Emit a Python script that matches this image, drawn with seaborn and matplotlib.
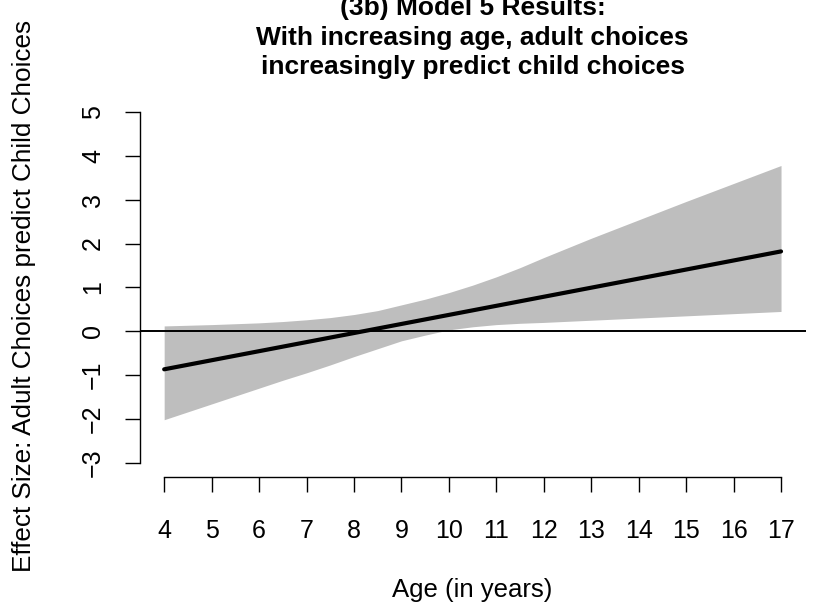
import matplotlib
matplotlib.use("Agg")
import matplotlib.pyplot as plt
import seaborn as sns
import pandas as pd

# Model 5: moderation of the adult-choice effect by child age (half-year grid)
ages = [4.0, 4.5, 5.0, 5.5, 6.0, 6.5, 7.0, 7.5, 8.0, 8.5, 9.0, 9.5, 10.0, 10.5,
        11.0, 11.5, 12.0, 12.5, 13.0, 13.5, 14.0, 14.5, 15.0, 15.5, 16.0, 16.5, 17.0]
ci_upper = [0.12, 0.135, 0.15, 0.17, 0.19, 0.22, 0.26, 0.31, 0.38, 0.47, 0.60, 0.73, 0.88, 1.05,
            1.24, 1.45, 1.68, 1.90, 2.12, 2.33, 2.54, 2.75, 2.96, 3.165, 3.37, 3.575, 3.78]
ci_lower = [-2.02, -1.84, -1.66, -1.48, -1.30, -1.12, -0.95, -0.77, -0.58, -0.40, -0.22, -0.09, 0.03, 0.10,
            0.15, 0.18, 0.20, 0.225, 0.25, 0.275, 0.30, 0.325, 0.35, 0.375, 0.40, 0.425, 0.45]

line_ages = [4, 17]
line_effect = [-0.87, 1.82]

x_ticks = list(range(4, 18))
y_ticks = list(range(-3, 6))

title_lines = [
    "(3b) Model 5 Results:",
    "With increasing age, adult choices",
    "increasingly predict child choices",
]
x_label = "Age (in years)"
y_label = "Effect Size: Adult Choices predict Child Choices"

sns.set_theme(style="white")
plt.rcParams["font.family"] = ["Liberation Sans", "DejaVu Sans"]

W, H = 820, 608
fig = plt.figure(figsize=(W / 100, H / 100), dpi=100)
left, right, top, bottom = 139.5, 805.7, 98.0, 476.7
ax = fig.add_axes([left / W, 1 - bottom / H, (right - left) / W, (bottom - top) / H])

band = pd.DataFrame({"age": ages, "lower": ci_lower, "upper": ci_upper})
ax.fill_between(band["age"], band["lower"], band["upper"], color="#BEBEBE", linewidth=0, zorder=1)
ax.axhline(0, color="black", linewidth=1.4, zorder=2)

est = pd.DataFrame({"age": line_ages, "effect": line_effect})
sns.lineplot(data=est, x="age", y="effect", ax=ax, color="black", linewidth=3,
             solid_capstyle="round", zorder=3)

ax.set_xlim(3.48, 17.52)
ax.set_ylim(-3.32, 5.32)
ax.set_xticks(x_ticks)
ax.set_yticks(y_ticks)
ax.set_xticklabels([str(v) for v in x_ticks])
ax.set_yticklabels([str(v).replace("-", "\u2212") for v in y_ticks], rotation=90, va="center")
ax.set_xlabel("")
ax.set_ylabel("")

for side in ("top", "right"):
    ax.spines[side].set_visible(False)
for side in ("left", "bottom"):
    ax.spines[side].set_color("black")
    ax.spines[side].set_linewidth(1.0)
ax.spines["left"].set_bounds(-3, 5)
ax.spines["bottom"].set_bounds(4, 17)

ax.tick_params(axis="both", which="major", direction="out", length=10.8, width=1.0,
               color="black", labelsize=18, labelcolor="black",
               left=True, bottom=True)
ax.tick_params(axis="x", pad=20)
ax.tick_params(axis="y", pad=14)

cx = (left + right) / 2 / W
for text, base in zip(title_lines, [15, 45, 74]):
    fig.text(cx, 1 - base / H, text, ha="center", va="baseline",
             fontsize=19, fontweight="bold", color="black")

fig.text(cx, 1 - 596.7 / H, x_label, ha="center", va="baseline", fontsize=18.5, color="black")
fig.text(24 / W, 1 - 296 / H, y_label, ha="center", va="center", rotation=90,
         fontsize=18.8, color="black")

fig.savefig("out.png", dpi=100, facecolor="white")
